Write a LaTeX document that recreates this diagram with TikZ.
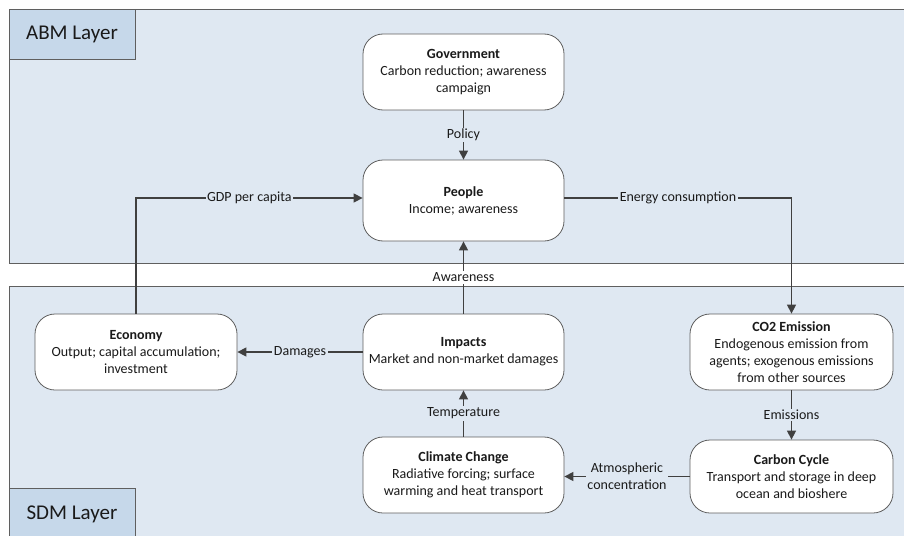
\documentclass[tikz,border=0pt]{standalone}
\usepackage{fontspec}
\setmainfont{Carlito}
\usetikzlibrary{arrows.meta}
\definecolor{layerfill}{HTML}{DFE8F2}
\definecolor{tagfill}{HTML}{C6D8EA}
\definecolor{edgegray}{HTML}{404040}
\definecolor{bordergray}{HTML}{5F5F5F}
\definecolor{txt}{HTML}{1A1A1A}
\begin{document}
\begin{tikzpicture}[x=1pt,y=-1pt,
  box/.style={draw=bordergray, line width=0.8pt, fill=white, rounded corners=20pt,
    minimum width=201pt, minimum height=76pt, align=center, text=txt,
    font=\fontsize{14}{17}\selectfont, inner sep=2pt},
  conn/.style={draw=edgegray, line width=1.4pt, -{Triangle[length=9pt,width=9pt]}},
  lab/.style={fill=layerfill, inner sep=1.5pt, text=txt, align=center,
    font=\fontsize{14}{17}\selectfont},
  layer/.style={draw=bordergray, line width=0.9pt, fill=layerfill},
  tag/.style={draw=bordergray, line width=0.9pt, fill=tagfill},
  tagtext/.style={text=txt, font=\fontsize{21}{25}\selectfont}
]
\useasboundingbox (0,0) rectangle (904,535);
\fill[white] (0,0) rectangle (904,535);

% layers
\draw[layer] (9,9) rectangle (915,263);
\draw[layer] (9,286.5) rectangle (915,545);
\draw[tag] (9,9) rectangle (135.5,59);
\node[tagtext] (abm) at (72,34) {ABM Layer};
\draw[tag] (9,488) rectangle (135.5,545);
\node[tagtext] (sdm) at (72,514) {SDM Layer};

% nodes
\node[box] (gov) at (463.5,72) {\textbf{Government}\\Carbon reduction; awareness\\campaign};
\node[box, minimum height=81pt] (people) at (463.5,200.5) {\textbf{People}\\Income; awareness};
\node[box] (impacts) at (463.5,352) {\textbf{Impacts}\\Market and non-market damages};
\node[box] (climate) at (463.5,475) {\textbf{Climate Change}\\Radiative forcing; surface\\warming and heat transport};
\node[box, minimum width=202pt] (eco) at (136,352) {\textbf{Economy}\\Output; capital accumulation;\\investment};
\node[box, minimum width=203pt] (co2) at (791.5,352) {\textbf{CO2 Emission}\\Endogenous emission from\\agents; exogenous emissions\\from other sources};
\node[box, minimum width=203pt, minimum height=73pt] (carbon) at (791.5,476.5) {\textbf{Carbon Cycle}\\Transport and storage in deep\\ocean and bioshere};

% connectors
\draw[conn] (gov) -- node[lab] {Policy} (people);
\draw[conn] (eco.north) |- node[lab, pos=0.75] {GDP per capita} ([yshift=2.5pt]people.west);
\draw[conn] ([yshift=2.5pt]people.east) -| node[lab, pos=0.25] {Energy consumption} (co2.north);
\draw[conn] (impacts) -- node[lab, fill=white] {Awareness} (people);
\draw[conn] (impacts) -- node[lab] {Damages} (eco);
\draw[conn] (climate) -- node[lab] {Temperature} (impacts);
\draw[conn] (co2) -- node[lab] {Emissions} (carbon);
\draw[conn] (carbon.west) -- node[lab] {Atmospheric\\concentration} (carbon.west -| climate.east);
\end{tikzpicture}
\end{document}
